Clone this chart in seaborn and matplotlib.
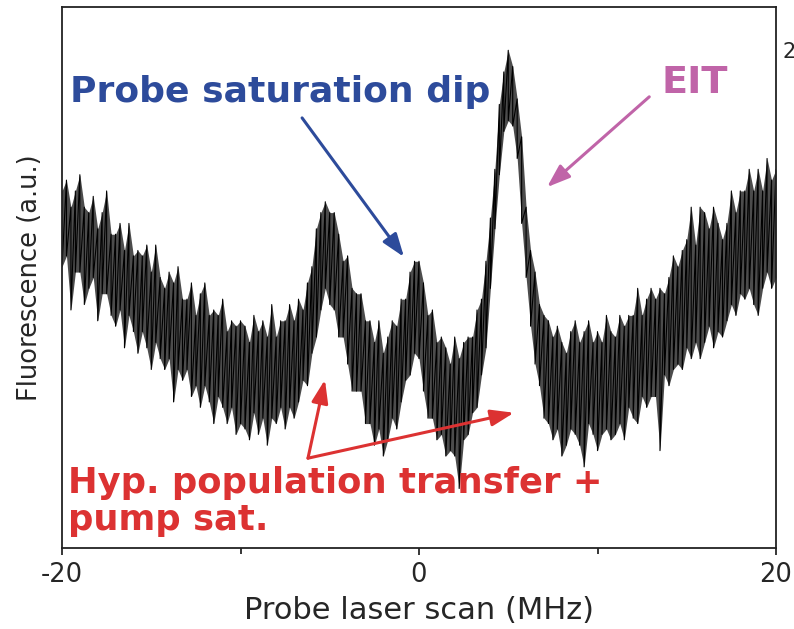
import numpy as np
import pandas as pd
import matplotlib.pyplot as plt
import seaborn as sns

sns.set_style("ticks")
plt.rcParams['font.family'] = ['DejaVu Sans']

# ----------------------------------------------------------------------------
# Data (fluorescence in a.u., 0-100 scale of the frame)
# probe detuning grid in MHz, 0.25 MHz steps
# ----------------------------------------------------------------------------
freq = np.linspace(-20, 20, 161)

# upper edge of the noisy trace at each sample
trace_hi = [
    66, 68, 63, 66, 69, 63, 62, 65, 59, 62, 66, 58, 58, 60, 55, 60, 54, 55, 54, 56,
    51, 56, 50, 48, 51, 49, 52, 46, 46, 49, 43, 47, 49, 43, 44, 43, 46, 40, 42, 41, 42,
    41, 38, 43, 40, 42, 39, 45, 39, 42, 42, 45, 42, 46, 44, 49, 52, 59, 62, 64, 62,
    62, 58, 53, 54, 48, 47, 47, 42,
    42, 38, 42, 36, 39, 42, 41, 46, 46, 51, 53, 53, 49, 43, 44, 38, 39, 37, 34, 39,
    35, 38, 39, 39, 44, 46, 53,
    61, 70, 82, 88, 92, 89, 83, 76, 63, 55, 51, 45, 43,
    42, 39, 41, 38, 36, 40, 42, 38, 40, 42, 38, 40, 38, 43, 40, 39, 43, 41, 43, 43,
    48, 43, 46, 48, 46, 48, 47, 50, 54, 52, 55, 57, 63, 56, 63, 62, 59, 63, 60, 57,
    60, 66, 62, 66, 66, 70, 66, 70, 66, 72, 68, 70,
]

# lower edge of the noisy trace at each sample
trace_lo = [
    52, 54, 44, 51, 51, 45, 48, 50, 42, 47, 47, 43, 41, 44, 37, 43, 40, 36, 40, 37,
    33, 38, 35, 33, 35, 27, 33, 31, 33, 28, 30, 26, 30, 27, 23, 28, 26, 23, 26, 21, 23,
    22, 20, 25, 21, 24, 19, 24, 23, 26, 22, 26, 24, 27, 31, 30, 36, 39, 44, 48, 45,
    44, 39, 39, 34, 29, 29, 29, 23,
    23, 19, 22, 17, 20, 24, 22, 27, 31, 32, 36, 35, 29, 24, 24, 20, 21, 17, 18, 17,
    11, 20, 21, 25, 26, 32, 37,
    48, 59, 69, 77, 79, 78, 72, 60, 50, 41, 34, 30, 24,
    23, 20, 22, 17, 19, 22, 21, 19, 15, 23, 21, 18, 21, 22, 20, 21, 23, 20, 26, 24,
    23, 28, 26, 28, 28, 18, 32, 30, 33, 34, 33, 37, 35, 38, 35, 38, 41, 37, 40, 39,
    42, 45, 43, 47, 46, 48, 45, 43, 48, 51, 48, 50,
]

major_ticks = [-20, 0, 20]
minor_ticks = [-10, 10]

BLUE = '#2d4b9b'
PINK = '#c064a8'
RED = '#dc3232'

# trace drawn as a zig-zag between the two edges
df = pd.DataFrame({
    'freq': np.repeat(freq, 2),
    'signal': np.column_stack([trace_hi, trace_lo]).ravel(),
})

fig = plt.figure(figsize=(7.94, 6.29), dpi=100)
ax = fig.add_axes([62 / 794, 1 - 548 / 629, 714 / 794, 541 / 629])

# dense noise band, then the jagged trace on top
ax.fill_between(freq, trace_lo, trace_hi, color='black', alpha=0.7, lw=0)
sns.lineplot(data=df, x='freq', y='signal', estimator=None, sort=False,
             color='black', lw=0.8, ax=ax)

ax.set_xlim(-20, 20)
ax.set_ylim(0, 100)
ax.set_yticks([])
ax.set_xticks(major_ticks)
ax.set_xticks(minor_ticks, minor=True)
ax.set_xticklabels([str(t) for t in major_ticks])
ax.tick_params(axis='x', which='major', direction='out', length=5, width=1.3,
               labelsize=18.5, pad=5)
ax.tick_params(axis='x', which='minor', direction='out', length=4, width=1.3)
for s in ax.spines.values():
    s.set_linewidth(1.3)
    s.set_color('#222222')

ax.set_xlabel('Probe laser scan (MHz)', fontsize=22, labelpad=6)
ax.set_ylabel('Fluorescence (a.u.)', fontsize=18.5, labelpad=14)

# annotations
arrow = dict(arrowstyle='-|>,head_length=0.7,head_width=0.25', lw=2.2,
             mutation_scale=20, shrinkA=0, shrinkB=0)

ax.text(-19.55, 82.4, 'Probe saturation dip', color=BLUE, fontsize=26,
        fontweight='bold', va='baseline', ha='left')
ax.annotate('', xy=(-0.84, 53.8), xytext=(-6.55, 79.5),
            arrowprops=dict(arrow, color=BLUE))

ax.text(13.6, 84.1, 'EIT', color=PINK, fontsize=27.5, fontweight='bold',
        va='baseline', ha='left')
ax.annotate('', xy=(7.17, 66.7), xytext=(12.9, 83.4),
            arrowprops=dict(arrow, color=PINK))

ax.text(-19.66, 10.2, 'Hyp. population transfer +', color=RED, fontsize=25.5,
        fontweight='bold', va='baseline', ha='left')
ax.text(-19.66, 3.3, 'pump sat.', color=RED, fontsize=25.5,
        fontweight='bold', va='baseline', ha='left')
ax.annotate('', xy=(-5.27, 31.1), xytext=(-6.22, 16.6),
            arrowprops=dict(arrow, color=RED))
ax.annotate('', xy=(5.32, 25.0), xytext=(-6.22, 16.6),
            arrowprops=dict(arrow, color=RED))

# label of the neighbouring panel peeking in at the right edge
fig.text(782 / 794, 1 - 52 / 629, '2', fontsize=15, va='center', ha='left')

plt.savefig('out.png', dpi=100)
plt.close()
